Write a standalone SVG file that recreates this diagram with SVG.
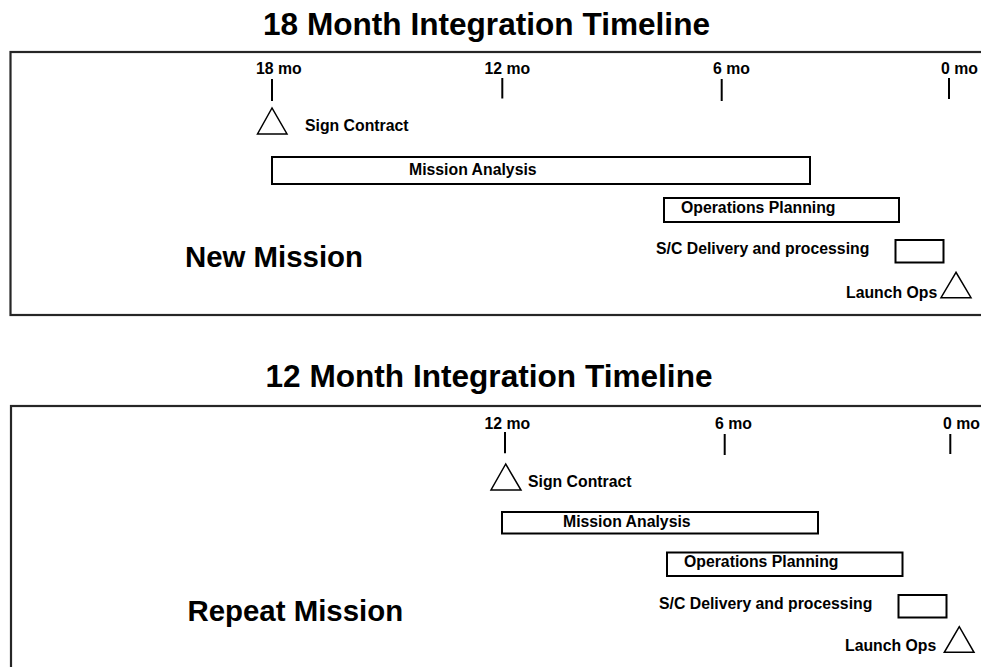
<svg xmlns="http://www.w3.org/2000/svg" width="981" height="667" viewBox="0 0 981 667">
<style>
text{font-family:"Liberation Sans",Arial,sans-serif;font-weight:bold;fill:#000}
.title{font-size:31.6px;text-anchor:middle}
.big{font-size:29.4px}
.lbl{font-size:15.8px}
.frame{fill:none;stroke:#262626;stroke-width:2.2}
.bar{fill:#fff;stroke:#000;stroke-width:2}
.tri{fill:#fff;stroke:#000;stroke-width:1.5;stroke-linejoin:miter}
.tick{stroke:#000;stroke-width:2}
</style>
<rect width="981" height="667" fill="#fff"/>

<g id="panel-new">
  <text class="title" x="486.5" y="35">18 Month Integration Timeline</text>
  <rect class="frame" x="10.5" y="52" width="990" height="263"/>
  <text class="big" x="185" y="267">New Mission</text>
</g>
<g id="axis-new">
  <text class="lbl" x="256" y="74">18 mo</text>
  <text class="lbl" x="484.5" y="74">12 mo</text>
  <text class="lbl" x="713" y="74">6 mo</text>
  <text class="lbl" x="941" y="74">0 mo</text>
</g>
<g id="new-sign-contract">
  <path class="tri" d="M272,108 L257.5,134 L287,134 Z"/>
  <text class="lbl" x="305" y="131">Sign Contract</text>
</g>
<g id="new-mission-analysis">
  <rect class="bar" x="272" y="157" width="538" height="27"/>
  <text class="lbl" x="409" y="174.5">Mission Analysis</text>
</g>
<g id="new-operations-planning">
  <rect class="bar" x="664" y="198" width="235" height="24"/>
  <text class="lbl" x="681" y="213">Operations Planning</text>
</g>
<g id="new-sc-delivery">
  <text class="lbl" x="656" y="253.5">S/C Delivery and processing</text>
  <rect class="bar" x="895.5" y="240" width="48" height="22.5"/>
</g>
<g id="new-launch-ops">
  <text class="lbl" x="846" y="298">Launch Ops</text>
  <path class="tri" d="M956,272.3 L941,297.7 L971,297.7 Z"/>
</g>

<g id="panel-repeat">
  <text class="title" x="489" y="386.7">12 Month Integration Timeline</text>
  <rect class="frame" x="11" y="406" width="990" height="300"/>
  <text class="big" x="187.5" y="621">Repeat Mission</text>
</g>
<g id="axis-repeat">
  <text class="lbl" x="484.5" y="429">12 mo</text>
  <text class="lbl" x="715" y="429">6 mo</text>
  <text class="lbl" x="943" y="429">0 mo</text>
</g>
<g id="rep-sign-contract">
  <path class="tri" d="M505.7,464 L491,490 L521,490 Z"/>
  <text class="lbl" x="528" y="487">Sign Contract</text>
</g>
<g id="rep-mission-analysis">
  <rect class="bar" x="502" y="512" width="316" height="21.5"/>
  <text class="lbl" x="563" y="527">Mission Analysis</text>
</g>
<g id="rep-operations-planning">
  <rect class="bar" x="667" y="552.5" width="235.5" height="23.5"/>
  <text class="lbl" x="684" y="567">Operations Planning</text>
</g>
<g id="rep-sc-delivery">
  <text class="lbl" x="659" y="608.5">S/C Delivery and processing</text>
  <rect class="bar" x="898.5" y="595" width="48" height="22.5"/>
</g>
<g id="rep-launch-ops">
  <text class="lbl" x="845" y="651">Launch Ops</text>
  <path class="tri" d="M959.3,626.7 L944.3,652.3 L974,652.3 Z"/>
</g>

<g id="connectors">
  <line class="tick" x1="272" y1="79" x2="272" y2="101"/>
  <line class="tick" x1="502.3" y1="78" x2="502.3" y2="98.5"/>
  <line class="tick" x1="721.7" y1="79" x2="721.7" y2="101"/>
  <line class="tick" x1="949" y1="78" x2="949" y2="99"/>
  <line class="tick" x1="505" y1="432" x2="505" y2="453.3"/>
  <line class="tick" x1="724.7" y1="434" x2="724.7" y2="455"/>
  <line class="tick" x1="950.3" y1="434" x2="950.3" y2="454"/>
</g>
</svg>
